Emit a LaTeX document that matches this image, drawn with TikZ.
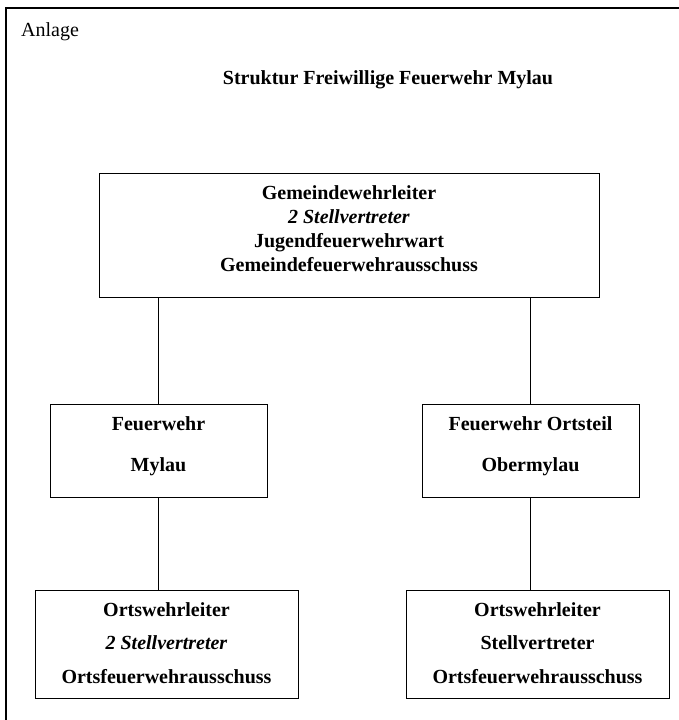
\documentclass[tikz,border=0pt]{standalone}
\usepackage{fontspec}
\setmainfont{Liberation Serif}
\usepackage{tikz}
\usetikzlibrary{positioning}
\definecolor{lineColor}{RGB}{0, 0, 0}
\tikzset{
    org_box/.style={
        draw=lineColor,
        line width=1pt,
        inner sep=0pt
    },
    org_text/.style={
        align=center,
        inner sep=0pt,
        font=\fontsize{20}{24.3}\selectfont\bfseries
    },
    org_edge/.style={
        draw=lineColor,
        line width=0.9pt
    }
}

\begin{document}
\begin{tikzpicture}[x=1pt, y=-1pt]
    \useasboundingbox (0,0) rectangle (679,720);

    % Rahmen (rechts und unten abgeschnitten)
    \draw[line width=1.2pt] (679,8) -- (6,8) -- (6,720);

    \node[anchor=base west, inner sep=0pt, font=\fontsize{20}{24}\selectfont] (anlage) at (21,36) {Anlage};
    \node[anchor=base, org_text] (titel) at (388,84) {Struktur Freiwillige Feuerwehr Mylau};

    % Gemeindeebene
    \node[org_box, minimum width=500, minimum height=124] (gwl) at (349,235) {};
    \node[org_text] (gwl_text) at (349,228.7)
        {Gemeindewehrleiter \\ \textit{2 Stellvertreter} \\ Jugendfeuerwehrwart \\ Gemeindefeuerwehrausschuss};

    % Ortsfeuerwehren
    \node[org_box, minimum width=217, minimum height=93] (fw_mylau) at (158.5,450.5) {};
    \node[org_text] (fw_mylau_text) at (158.5,445.8) {Feuerwehr \\[16.7pt] Mylau};

    \node[org_box, minimum width=217, minimum height=93] (fw_obermylau) at (530.5,450.5) {};
    \node[org_text] (fw_obermylau_text) at (530.5,445.8) {Feuerwehr Ortsteil \\[16.7pt] Obermylau};

    % Ortswehrleitung
    \node[org_box, minimum width=263, minimum height=108] (owl_mylau) at (166.5,644) {};
    \node[org_text] (owl_mylau_text) at (166.5,642.7)
        {Ortswehrleiter \\[9.2pt] \textit{2 Stellvertreter} \\[9.2pt] Ortsfeuerwehrausschuss};

    \node[org_box, minimum width=263, minimum height=108] (owl_obermylau) at (537.5,644) {};
    \node[org_text] (owl_obermylau_text) at (537.5,642.7)
        {Ortswehrleiter \\[9.2pt] Stellvertreter \\[9.2pt] Ortsfeuerwehrausschuss};

    % Verbindungen
    \draw[org_edge] (fw_mylau.north |- gwl.south) -- (fw_mylau.north);
    \draw[org_edge] (fw_obermylau.north |- gwl.south) -- (fw_obermylau.north);
    \draw[org_edge] (fw_mylau.south) -- (fw_mylau.south |- owl_mylau.north);
    \draw[org_edge] (fw_obermylau.south) -- (fw_obermylau.south |- owl_obermylau.north);
\end{tikzpicture}
\end{document}
